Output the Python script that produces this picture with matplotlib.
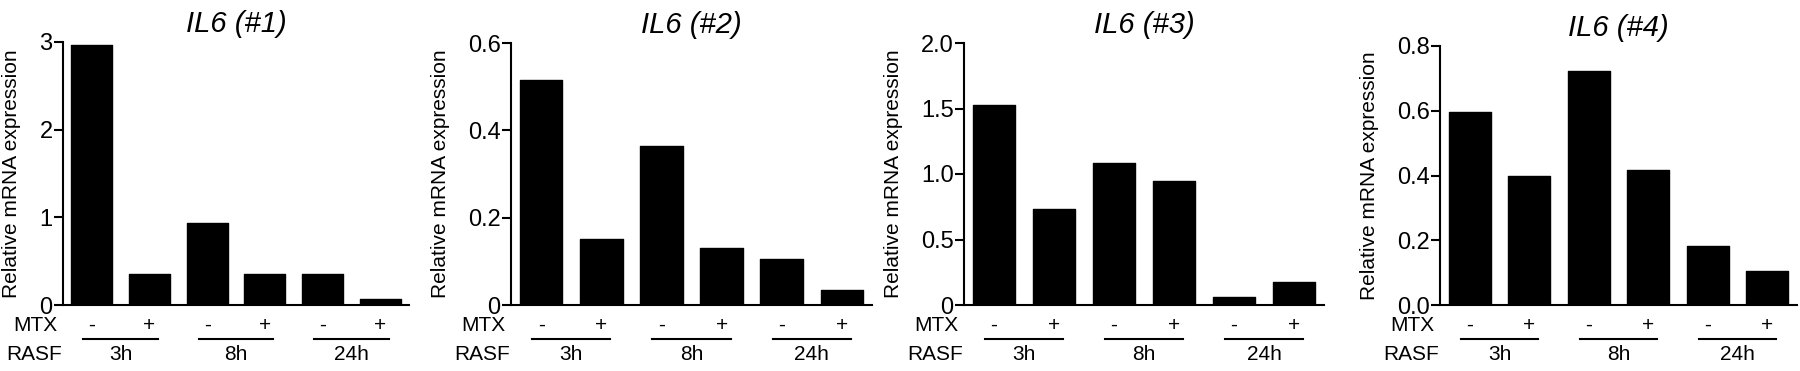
import matplotlib
matplotlib.use('Agg')
import matplotlib.pyplot as plt
import matplotlib.transforms as mtransforms

plt.rcParams['font.family'] = ['Liberation Sans', 'DejaVu Sans']

# Данные по четырём панелям
titles = ['IL6 (#1)', 'IL6 (#2)', 'IL6 (#3)', 'IL6 (#4)']
mtx = ['-', '+', '-', '+', '-', '+']
rasf = ['3h', '8h', '24h']
vals1 = [2.97, 0.35, 0.94, 0.35, 0.35, 0.07]
vals2 = [0.515, 0.151, 0.365, 0.130, 0.106, 0.034]
vals3 = [1.53, 0.73, 1.085, 0.945, 0.064, 0.173]
vals4 = [0.596, 0.399, 0.722, 0.417, 0.181, 0.105]
yticks1 = [0, 1, 2, 3]
yticks2 = [0, 0.2, 0.4, 0.6]
yticks3 = [0, 0.5, 1.0, 1.5, 2.0]
yticks4 = [0, 0.2, 0.4, 0.6, 0.8]
ylabels1 = ['0', '1', '2', '3']
ylabels2 = ['0', '0.2', '0.4', '0.6']
ylabels3 = ['0', '0.5', '1.0', '1.5', '2.0']
ylabels4 = ['0.0', '0.2', '0.4', '0.6', '0.8']

panels = [
    (vals1, yticks1, ylabels1),
    (vals2, yticks2, ylabels2),
    (vals3, yticks3, ylabels3),
    (vals4, yticks4, ylabels4),
]

W, H = 1800, 371
fig = plt.figure(figsize=(W / 100, H / 100), dpi=100)

# положение осей в пикселях: левый край, правый край, верх
rects = [(63, 409, 42), (511, 872, 43), (964, 1324, 43), (1440, 1797, 46)]
bottom_px = 305

for i, (vals, yt, yl) in enumerate(panels):
    l, r, t = rects[i]
    ax = fig.add_axes([l / W, (H - bottom_px) / H, (r - l) / W, (bottom_px - t) / H])
    x = list(range(len(vals)))
    ax.bar(x, vals, width=0.71, color='black', edgecolor='black', linewidth=1,
           joinstyle='round')
    ax.set_xlim(-0.5, 5.5)
    ax.set_ylim(0, yt[-1])
    ax.set_yticks(yt)
    ax.set_yticklabels(yl)
    ax.set_xticks([])
    for s in ['top', 'right']:
        ax.spines[s].set_visible(False)
    for s in ['left', 'bottom']:
        ax.spines[s].set_linewidth(1.5)
    ax.tick_params(axis='y', direction='out', length=6.5, width=1.5, pad=1,
                   labelsize=17)
    ax.set_ylabel('Relative mRNA expression', fontsize=15, labelpad=13)
    ax.set_title(titles[i], fontsize=21, style='italic', pad=7)

    trans = mtransforms.blended_transform_factory(ax.transData, ax.transAxes)
    for j, s in enumerate(mtx):
        ax.text(j, -0.078, s, transform=trans, ha='center', va='center',
                fontsize=15)
    for k, s in enumerate(rasf):
        ax.plot([2 * k - 0.15, 2 * k + 1.15], [-0.131, -0.131], color='black',
                lw=1.5, transform=trans, clip_on=False)
        ax.text(2 * k + 0.5, -0.19, s, transform=trans, ha='center',
                va='center', fontsize=15)
    off = mtransforms.offset_copy(ax.transAxes, fig=fig, x=-6, y=0, units='dots')
    ax.text(0, -0.078, 'MTX', transform=off, ha='right', va='center', fontsize=15)
    off2 = mtransforms.offset_copy(ax.transAxes, fig=fig, x=-1, y=0, units='dots')
    ax.text(0, -0.19, 'RASF', transform=off2, ha='right', va='center', fontsize=15)

fig.savefig('out.png', dpi=100)
